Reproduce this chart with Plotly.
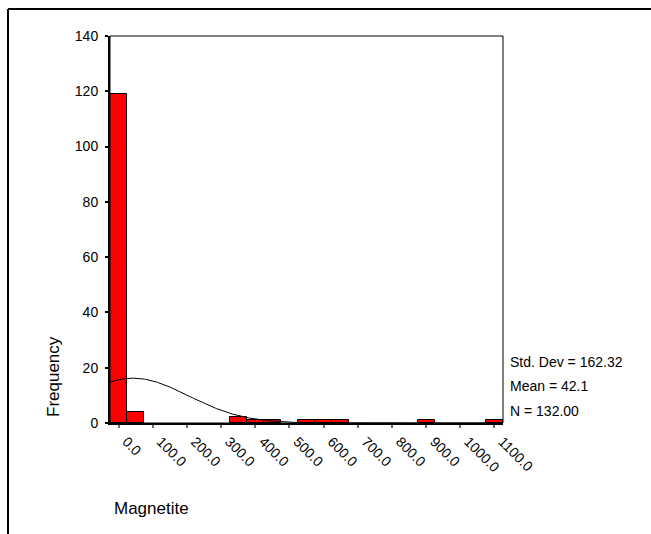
import numpy as np
import plotly.graph_objects as go

# Histogram of Magnetite: bin centres (width 50) and frequencies
bin_centers = [0, 50, 350, 400, 450, 550, 600, 650, 900, 1100]
frequencies = [119, 4, 2, 1, 1, 1, 1, 1, 1, 1]
bin_width = 50

# Summary statistics shown beside the chart
std_dev = 162.32
mean = 42.1
n_total = 132

x_tick_values = [0, 100, 200, 300, 400, 500, 600, 700, 800, 900, 1000, 1100]
x_tick_labels = ["0.0", "100.0", "200.0", "300.0", "400.0", "500.0", "600.0",
                 "700.0", "800.0", "900.0", "1000.0", "1100.0"]
y_tick_values = [0, 20, 40, 60, 80, 100, 120, 140]

FONT = "Liberation Sans, Arial, sans-serif"
W, H = 651, 534
L, R, T, B = 110, 148, 36, 111

# Fitted normal curve scaled to counts per bin
xs = np.linspace(-25, 1125, 400)
ys = n_total * bin_width / (std_dev * np.sqrt(2 * np.pi)) * np.exp(-0.5 * ((xs - mean) / std_dev) ** 2)

fig = go.Figure()
fig.add_trace(go.Bar(
    x=bin_centers, y=frequencies, width=bin_width,
    marker=dict(color="#ff0000", line=dict(color="black", width=1)),
    showlegend=False, hoverinfo="x+y",
))
fig.add_trace(go.Scatter(
    x=xs, y=ys, mode="lines", line=dict(color="black", width=1),
    showlegend=False, hoverinfo="skip",
))

def px_to_paper_x(px):
    return (px - L) / (W - L - R)

def px_to_paper_y(py):
    return (H - B - py) / (H - T - B)

shapes = [
    # plot frame (top and right edges)
    dict(type="rect", xref="paper", yref="paper", x0=0, x1=1, y0=0, y1=1,
         line=dict(color="black", width=1), layer="above"),
    # outer chart border, left and top
    dict(type="line", xref="paper", yref="paper",
         x0=px_to_paper_x(8), x1=px_to_paper_x(8), y0=px_to_paper_y(9), y1=px_to_paper_y(540),
         line=dict(color="black", width=2)),
    dict(type="line", xref="paper", yref="paper",
         x0=px_to_paper_x(8), x1=px_to_paper_x(660), y0=px_to_paper_y(9), y1=px_to_paper_y(9),
         line=dict(color="black", width=2)),
]

stats_lines = [f"Std. Dev = {std_dev:.2f}", f"Mean = {mean:.1f}", f"N = {n_total:.2f}"]
stats_y = [362, 386, 411]
annotations = [
    dict(text=t, xref="paper", yref="paper", x=px_to_paper_x(508), y=px_to_paper_y(yy),
         xanchor="left", yanchor="middle", showarrow=False,
         font=dict(family=FONT, size=14, color="black"))
    for t, yy in zip(stats_lines, stats_y)
]
annotations.append(dict(text="Frequency", xref="paper", yref="paper",
                        x=px_to_paper_x(53), y=px_to_paper_y(377), textangle=-90,
                        xanchor="center", yanchor="middle", showarrow=False,
                        font=dict(family=FONT, size=17, color="black")))
annotations.append(dict(text="Magnetite", xref="paper", yref="paper",
                        x=px_to_paper_x(151), y=px_to_paper_y(508),
                        xanchor="center", yanchor="middle", showarrow=False,
                        font=dict(family=FONT, size=17, color="black")))

fig.update_layout(
    width=W, height=H,
    margin=dict(l=L, r=R, t=T, b=B, pad=0),
    paper_bgcolor="white", plot_bgcolor="white",
    bargap=0,
    font=dict(family=FONT, size=14, color="black"),
    shapes=shapes, annotations=annotations,
    xaxis=dict(
        range=[-25, 1125], tickmode="array", tickvals=x_tick_values, ticktext=x_tick_labels,
        tickangle=45, ticks="outside", ticklen=3, tickwidth=2, tickcolor="#707070",
        ticklabelstandoff=0, ticklabelshift=8,
        showline=True, linecolor="black", linewidth=2, showgrid=False, zeroline=False,
        tickfont=dict(family=FONT, size=14, color="black"),
    ),
    yaxis=dict(
        range=[0, 140], tickmode="array", tickvals=y_tick_values,
        ticks="outside", ticklen=3, tickwidth=2, tickcolor="black",
        ticklabelstandoff=4,
        showline=True, linecolor="black", linewidth=2, showgrid=False, zeroline=False,
        tickfont=dict(family=FONT, size=14, color="black"),
    ),
)

fig.write_html("out.html")
